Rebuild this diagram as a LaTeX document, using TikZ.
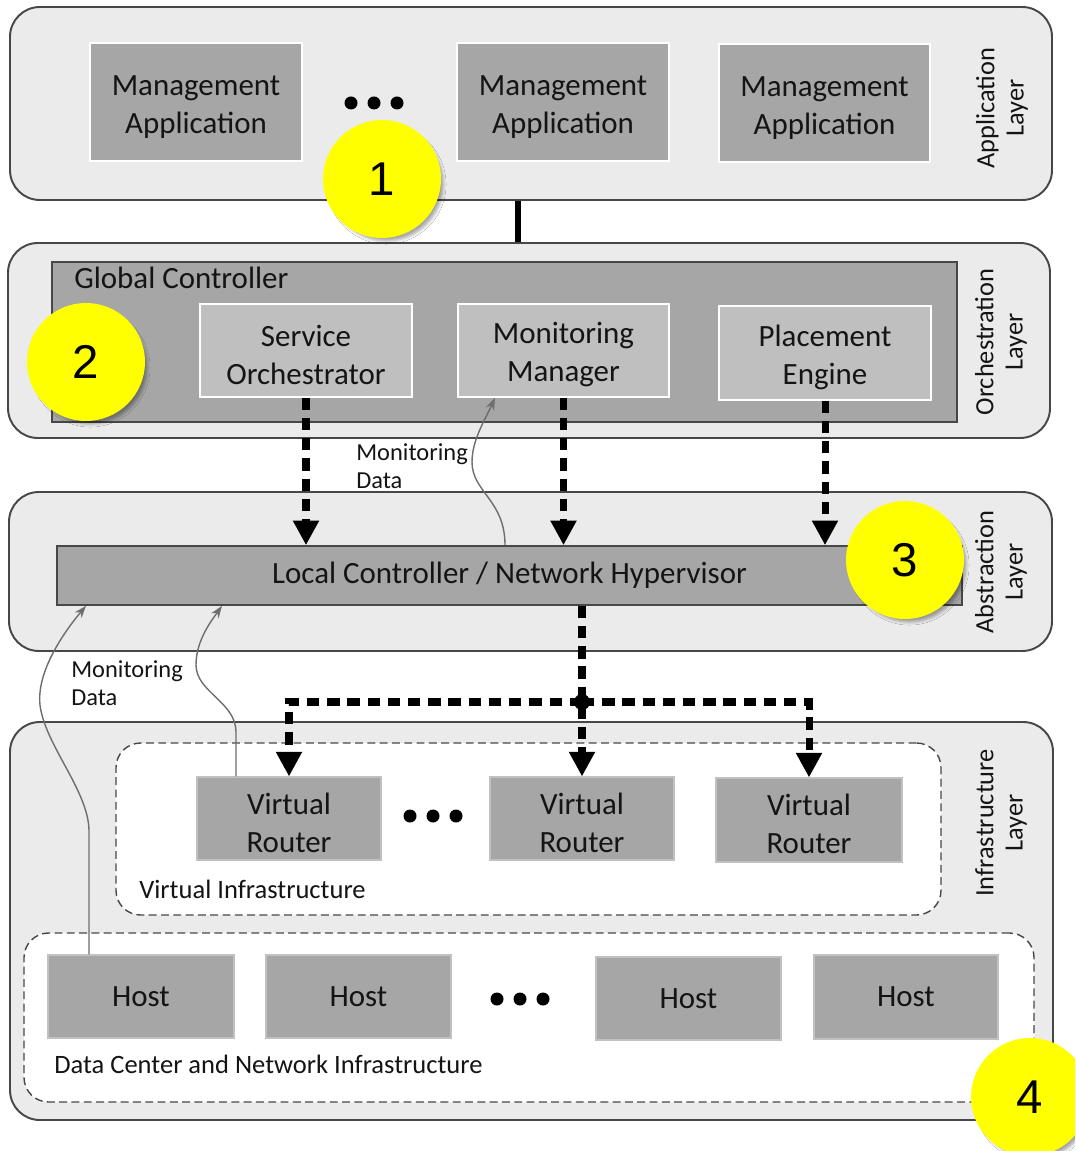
\documentclass[tikz,border=0pt]{standalone}
\usepackage{fontspec}
\setmainfont{Carlito}
\newfontfamily\numfont{Liberation Sans}
\usetikzlibrary{arrows.meta, fit, shadows.blur}

\definecolor{layerfill}{HTML}{EBEBEB}
\definecolor{layerdraw}{HTML}{474747}
\definecolor{boxgray}{HTML}{A6A6A6}
\definecolor{boxlight}{HTML}{BFBFBF}
\definecolor{badgeyellow}{HTML}{FFFF00}
\definecolor{feedgray}{HTML}{6E6E6E}
\definecolor{inkdark}{HTML}{141414}

\newcommand{\txtmain}{\fontsize{17.6}{21.5}\selectfont}
\newcommand{\txtlayer}{\fontsize{15}{16.6}\selectfont}
\newcommand{\txtinfra}{\fontsize{15.1}{17}\selectfont}
\newcommand{\txtmon}{\fontsize{13.9}{15.6}\selectfont}
\newcommand{\txtnum}{\numfont\fontsize{27}{27}\selectfont}
% strut that lowers two-line box labels slightly
\newcommand{\topstrut}{\rule{0pt}{17pt}}

\tikzset{
  wh/.style 2 args={minimum width=#1*0.02cm, minimum height=#2*0.02cm},
  layer/.style={draw=layerdraw, line width=1.1pt, fill=layerfill,
    rounded corners=17pt, inner sep=0pt},
  appbox/.style={fill=boxgray, draw=white, line width=0.8pt, inner sep=0pt,
    align=center, font=\txtmain, text=inkdark},
  ctrlbox/.style={fill=boxgray, draw=layerdraw, line width=0.9pt, inner sep=0pt,
    align=center, font=\txtmain, text=inkdark},
  subbox/.style={fill=boxlight, draw=white, line width=0.9pt, inner sep=0pt,
    align=center, font=\txtmain, text=inkdark},
  infrabox/.style={fill=boxgray, draw=boxgray!70!white, line width=0.6pt,
    inner sep=0pt, align=center, font=\txtmain, text=inkdark},
  dashbox/.style={draw=layerdraw, line width=0.8pt, dash pattern=on 4.5pt off 2.5pt,
    fill=white, rounded corners=14pt, inner sep=0pt},
  layertext/.style={rotate=90, align=center, font=\txtlayer, text=inkdark, inner sep=0pt},
  infratext/.style={anchor=west, font=\txtinfra, text=inkdark, inner sep=0pt},
  montext/.style={anchor=west, align=left, font=\txtmon, text=inkdark, inner sep=0pt},
  badge/.style={circle, fill=badgeyellow, minimum size=2.36cm, inner sep=0pt,
    font=\txtnum, text=black,
    blur shadow={shadow xshift=2.6pt, shadow yshift=-3.2pt, shadow scale=0.96,
      shadow blur radius=1.8pt, shadow opacity=35}},
  bigdash/.style={line width=4pt, dash pattern=on 7pt off 4.5pt,
    -{Triangle[length=14pt, width=14pt]}},
  feed/.style={draw=feedgray, line width=0.8pt,
    -{Stealth[length=7pt, width=5pt]}},
  link/.style={line width=3.2pt, black},
}

\begin{document}
\begin{tikzpicture}[x=0.02cm, y=-0.02cm]
  \useasboundingbox (0,0) rectangle (1075,1151);
  \clip (0,0) rectangle (1075,1151);
  \fill[white] (0,0) rectangle (1075,1151);

  % ---------- Application layer ----------
  \node[layer, fit={(10,7) (1052,200)}] (applayer) {};
  \node[appbox, wh={212}{118}] (ma1) at (196,102) {\topstrut Management\\Application};
  \node[appbox, wh={212}{118}] (ma2) at (563,102) {\topstrut Management\\Application};
  \node[appbox, wh={211}{118}] (ma3) at (824.5,103) {\topstrut Management\\Application};
  \foreach \dx in {351,374,397} \fill (\dx,103) circle (6.5);
  \node[layertext] (lblapp) at (1002,108) {Application\\Layer};

  % ---------- Orchestration layer ----------
  \node[layer, fit={(8,243) (1050,438)}] (orchlayer) {};
  \node[ctrlbox, fit={(52,262) (957,422)}] (gc) {};
  \node[anchor=west, font=\txtmain, text=inkdark, inner sep=0pt] (gclbl) at (74,278) {Global Controller};
  \node[subbox, wh={212}{93}] (so) at (306,350.5) {\topstrut Service\\Orchestrator};
  \node[subbox, wh={211}{93}] (mm) at (563.5,350.5) {\topstrut Monitoring\\Manager};
  \node[subbox, wh={212}{94}] (pe) at (825,353) {\topstrut Placement\\Engine};
  \node[layertext] (lblorch) at (1001,342) {Orchestration\\Layer};

  % link between the application and orchestration layers
  \coordinate (lk) at (518,0);
  \draw[link] (applayer.south -| lk) -- (orchlayer.north -| lk);

  % ---------- Abstraction layer ----------
  \node[layer, fit={(9,492) (1052,651)}] (abslayer) {};
  \node[ctrlbox, wh={905}{59}] (lc) at (509.5,575.5) {Local Controller / Network Hypervisor};
  \node[layertext] (lblabs) at (1001,572) {Abstraction\\Layer};

  % ---------- Infrastructure layer ----------
  \node[layer, fit={(10,722) (1053,1120)}] (infralayer) {};
  \node[dashbox, fit={(116,743) (941,915)}] (vinfra) {};
  \node[dashbox, fit={(24,933) (1034,1102)}] (dcinfra) {};
  \node[infrabox, wh={184}{83}] (vr1) at (289,818.5) {\topstrut Virtual\\Router};
  \node[infrabox, wh={184}{83}] (vr2) at (582,818.5) {\topstrut Virtual\\Router};
  \node[infrabox, wh={186}{84}] (vr3) at (809,820) {\topstrut Virtual\\Router};
  \foreach \dx in {410,433,456} \fill (\dx,816) circle (6.5);
  \node[infratext] (vilbl) at (139,889) {Virtual Infrastructure};
  \node[infrabox, wh={186}{83}] (h1) at (141,996.5) {Host};
  \node[infrabox, wh={185}{83}] (h2) at (358.5,996.5) {Host};
  \node[infrabox, wh={185}{83}] (h3) at (688.5,998.5) {Host};
  \node[infrabox, wh={184}{84}] (h4) at (906,997) {Host};
  \foreach \dx in {497,520,543} \fill (\dx,999) circle (6.5);
  \node[infratext] (dclbl) at (54,1064) {Data Center and Network Infrastructure};
  \node[layertext] (lblinfra) at (1001,823) {Infrastructure\\Layer};

  % ---------- control flow (thick dashed) ----------
  \draw[bigdash] (so.south) -- (so.south |- lc.north);
  \draw[bigdash] (mm.south) -- (mm.south |- lc.north);
  \draw[bigdash] (pe.south) -- (pe.south |- lc.north);

  \coordinate (j) at (582,702);
  \draw[bigdash] (lc.south -| vr2) -- (vr2.north);
  \draw[bigdash] (j) -- (j -| vr1) -- (vr1.north);
  \draw[bigdash] (j) -- (j -| vr3) -- (vr3.north);
  \fill (j) circle (8);

  % ---------- monitoring data feedback (thin gray) ----------
  \coordinate (mdA) at (505,0);
  \coordinate (mdAend) at (495,0);
  \draw[feed] (lc.north -| mdA) .. controls (505,500) and (472,492) .. (472,462)
    .. controls (472,440) and (485,420) .. (mm.south -| mdAend);
  \node[montext] (mdlbl1) at (356,466) {Monitoring\\Data};

  \coordinate (mdB) at (236,0);
  \coordinate (mdBend) at (222,0);
  \draw[feed] (vr1.north -| mdB) -- (236,732) .. controls (236,702) and (196,692) .. (196,665)
    .. controls (196,640) and (212,620) .. (lc.south -| mdBend);

  \coordinate (mdC) at (89,0);
  \coordinate (mdCend) at (86,0);
  \draw[feed] (h1.north -| mdC) -- (89,830) .. controls (88,790) and (45,745) .. (40,705)
    .. controls (36,668) and (70,625) .. (lc.south -| mdCend);
  \node[montext] (mdlbl2) at (71,683) {Monitoring\\Data};

  % ---------- numbered markers ----------
  \node[badge] (n1) at (382,179) {1};
  \node[badge] (n2) at (86,362) {2};
  \node[badge] (n3) at (905,560) {3};
  \node[badge] (n4) at (1030,1097) {4};
\end{tikzpicture}
\end{document}
